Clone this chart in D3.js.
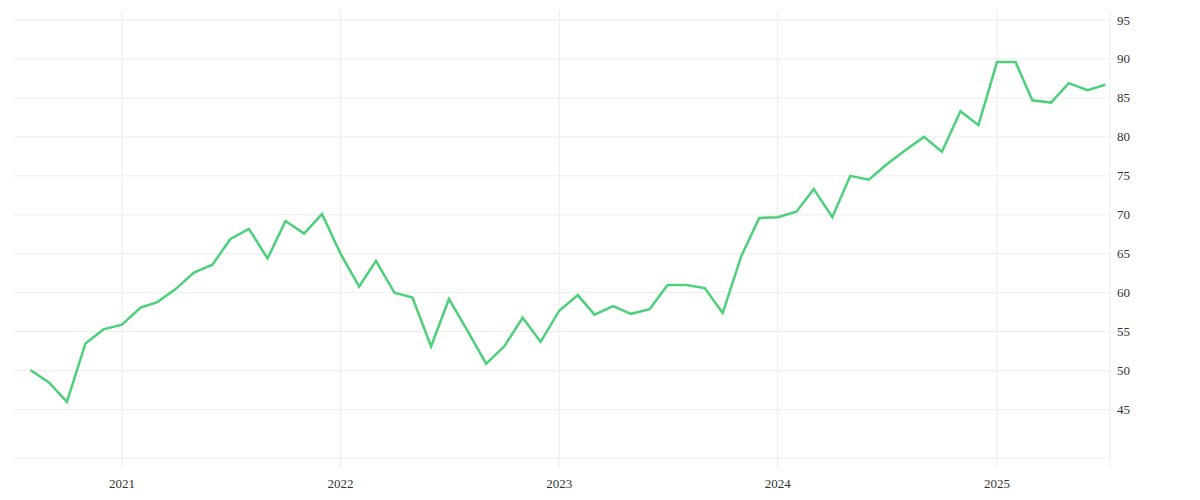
<!DOCTYPE html><html><head><script src="https://d3js.org/d3.v7.min.js"></script>
<style>body{margin:0;background:#fff}text{font-family:"Liberation Serif","DejaVu Serif",serif;font-size:13px;fill:#333}</style></head><body><svg width="1200" height="500"></svg><script>
const startMonth = "2020-08";
const values = [50.1,48.5,46,53.5,55.3,55.9,58.1,58.8,60.5,62.6,63.6,66.9,68.2,64.4,69.2,67.6,70.1,65,60.8,64.1,60,59.4,53.1,59.2,55.1,50.9,53.1,56.8,53.7,57.7,59.7,57.2,58.3,57.3,57.9,61,61,60.6,57.4,64.7,69.6,69.7,70.4,73.3,69.7,75,74.5,76.5,78.3,80,78.1,83.3,81.5,89.6,89.6,84.7,84.4,86.9,86,86.7];
const yTicks = [45,50,55,60,65,70,75,80,85,90,95];
const yearTicks = ["2021","2022","2023","2024","2025"];
const dates = values.map((v,i)=>new Date(2020,7+i,1));
const svg=d3.select("svg");
const x=d3.scaleTime().domain([new Date(2021,0,1),new Date(2025,0,1)]).range([122,997]);
const y=d3.scaleLinear().domain([38.8,95]).range([458,20]);
const g=svg.append("g");
yTicks.forEach(t=>g.append("line").attr("x1",14).attr("x2",1110).attr("y1",y(t)).attr("y2",y(t)).attr("stroke","#ececec"));
g.append("line").attr("x1",14).attr("x2",1110).attr("y1",458).attr("y2",458).attr("stroke","#ececec");
g.append("line").attr("x1",1110).attr("x2",1110).attr("y1",10).attr("y2",468).attr("stroke","#ececec");
yearTicks.forEach(t=>{const xx=x(new Date(+t,0,1));
 g.append("line").attr("x1",xx).attr("x2",xx).attr("y1",10).attr("y2",468).attr("stroke","#ececec");
 g.append("text").attr("x",xx).attr("y",488).attr("text-anchor","middle").text(t);});
yTicks.forEach(t=>g.append("text").attr("x",1117).attr("y",y(t)+4.5).text(t));
svg.append("path").datum(values).attr("fill","none").attr("stroke","#4cd17a").attr("stroke-width",2.5)
 .attr("d",d3.line().x((d,i)=>x(dates[i])).y(d=>y(d)));
</script></body></html>
